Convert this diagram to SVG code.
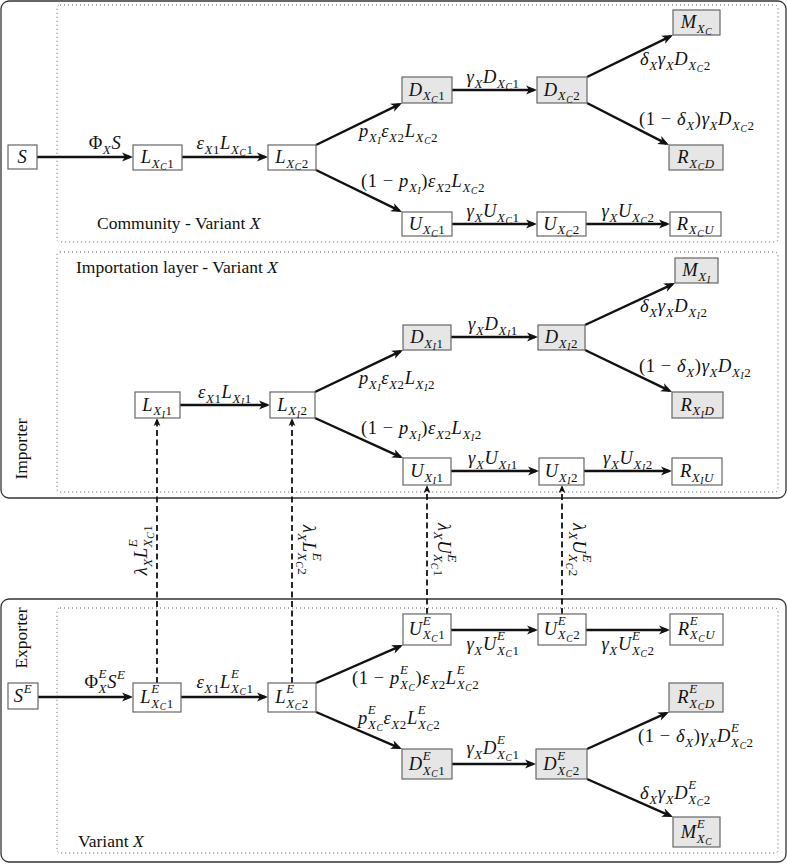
<svg xmlns="http://www.w3.org/2000/svg" width="787" height="864" viewBox="0 0 787 864">
<defs>
<style>
.t{font-family:"Liberation Serif","Times New Roman",serif;font-size:18.5px;fill:#111;letter-spacing:0.6px}
.c{text-anchor:middle}
.lab{font-size:17.5px;letter-spacing:0}
.i{font-style:italic}
.s{font-size:13px}
.ss{font-size:9.5px}
.box{fill:#fff;stroke:#666;stroke-width:1.2}
.sh{fill:#e6e6e6;stroke:#666;stroke-width:1.2}
.outer{fill:none;stroke:#333;stroke-width:1.3}
.dot{fill:none;stroke:#555;stroke-width:1;stroke-dasharray:1 3}
.e{fill:none;stroke:#111;stroke-width:2.4;marker-end:url(#ah)}
.d{fill:none;stroke:#111;stroke-width:1.8;stroke-dasharray:6 3.5;marker-end:url(#ahs)}
</style>
<marker id="ah" markerUnits="userSpaceOnUse" viewBox="-12 -6 13 12" refX="-3" refY="0" markerWidth="13" markerHeight="12" orient="auto">
<path d="M-11,-4.5 L0,0 L-11,4.5 L-8,0 z" fill="#111"/>
</marker>
<marker id="ahs" markerUnits="userSpaceOnUse" viewBox="-9 -4 10 8" refX="-2" refY="0" markerWidth="10" markerHeight="8" orient="auto">
<path d="M-8,-3.4 L0,0 L-8,3.4 L-6,0 z" fill="#111"/>
</marker>
</defs>
<rect width="787" height="864" fill="#fff"/>
<g id="frames">
<rect class="outer" x="1" y="1" width="785" height="497" rx="8"/>
<rect class="dot" x="57" y="5" width="721" height="237" rx="3"/>
<rect class="dot" x="57" y="252" width="721" height="240" rx="3"/>
<rect class="outer" x="1" y="599" width="785" height="263" rx="8"/>
<rect class="dot" x="57" y="608" width="721" height="245" rx="3"/>
<text class="t lab" x="97" y="229">Community - Variant <tspan class="i">X</tspan></text>
<text class="t lab" x="76" y="273">Importation layer - Variant <tspan class="i">X</tspan></text>
<text class="t lab" x="78" y="847">Variant <tspan class="i">X</tspan></text>
<text class="t lab c" transform="translate(27,449) rotate(-90)">Importer</text>
<text class="t lab c" transform="translate(27,638) rotate(-90)">Exporter</text>
</g>
<g id="connectors">
<path class="e" d="M37,157 H130"/>
<path class="e" d="M182,157 H265"/>
<path class="e" d="M316,145 L399.3,104.3"/>
<path class="e" d="M316,170 L399.3,210.7"/>
<path class="e" d="M452,90 H534"/>
<path class="e" d="M587,77 L670.3,36.3"/>
<path class="e" d="M587,103 L666.3,143.6"/>
<path class="e" d="M452,224 H534"/>
<path class="e" d="M586,224 H667"/>
<path class="e" d="M180,405 H267"/>
<path class="e" d="M315,392 L400.3,351.3"/>
<path class="e" d="M315,418 L400.3,456.8"/>
<path class="e" d="M451,337 H535"/>
<path class="e" d="M585,325 L672.3,284.3"/>
<path class="e" d="M585,350 L669.3,390.7"/>
<path class="e" d="M451,471 H536"/>
<path class="e" d="M584,471 H669"/>
<path class="e" d="M38,697 H130"/>
<path class="e" d="M181,697 H265"/>
<path class="e" d="M316,683 L400.2,646.2"/>
<path class="e" d="M316,712 L399.2,747.8"/>
<path class="e" d="M451,630 H535"/>
<path class="e" d="M586,630 H667"/>
<path class="e" d="M452,764 H533"/>
<path class="e" d="M587,749 L666.3,713.2"/>
<path class="e" d="M587,779 L670.3,815.8"/>
<path class="d" d="M157,683 V420"/>
<path class="d" d="M292,683 V420"/>
<path class="d" d="M427,614 V487"/>
<path class="d" d="M562,614 V487"/>
<!-- labels top -->
<text class="t c" x="105" y="149">Φ<tspan class="s i" dy="4.5">X</tspan><tspan class="i" dy="-4.5">S</tspan></text>
<text class="t c" x="225" y="149"><tspan class="i">ε</tspan><tspan class="s i" dy="4.5">X</tspan><tspan class="s">1</tspan><tspan class="i" dy="-4.5">L</tspan><tspan class="s i" dy="4.5">X</tspan><tspan class="ss i" dy="2.5">C</tspan><tspan class="s" dy="-2.5">1</tspan></text>
<text class="t" x="359" y="137"><tspan class="i">p</tspan><tspan class="s i" dy="4.5">X</tspan><tspan class="ss i" dy="2.5">I</tspan><tspan class="i" dy="-7">ε</tspan><tspan class="s i" dy="4.5">X</tspan><tspan class="s">2</tspan><tspan class="i" dy="-4.5">L</tspan><tspan class="s i" dy="4.5">X</tspan><tspan class="ss i" dy="2.5">C</tspan><tspan class="s" dy="-2.5">2</tspan></text>
<text class="t" x="361" y="187">(1 − <tspan class="i">p</tspan><tspan class="s i" dy="4.5">X</tspan><tspan class="ss i" dy="2.5">I</tspan><tspan dy="-7">)</tspan><tspan class="i">ε</tspan><tspan class="s i" dy="4.5">X</tspan><tspan class="s">2</tspan><tspan class="i" dy="-4.5">L</tspan><tspan class="s i" dy="4.5">X</tspan><tspan class="ss i" dy="2.5">C</tspan><tspan class="s" dy="-2.5">2</tspan></text>
<text class="t c" x="493" y="83"><tspan class="i">γ</tspan><tspan class="s i" dy="4.5">X</tspan><tspan class="i" dy="-4.5">D</tspan><tspan class="s i" dy="4.5">X</tspan><tspan class="ss i" dy="2.5">C</tspan><tspan class="s" dy="-2.5">1</tspan></text>
<text class="t" x="640" y="65"><tspan class="i">δ</tspan><tspan class="s i" dy="4.5">X</tspan><tspan class="i" dy="-4.5">γ</tspan><tspan class="s i" dy="4.5">X</tspan><tspan class="i" dy="-4.5">D</tspan><tspan class="s i" dy="4.5">X</tspan><tspan class="ss i" dy="2.5">C</tspan><tspan class="s" dy="-2.5">2</tspan></text>
<text class="t" x="639" y="125">(1 − <tspan class="i">δ</tspan><tspan class="s i" dy="4.5">X</tspan><tspan dy="-4.5">)</tspan><tspan class="i">γ</tspan><tspan class="s i" dy="4.5">X</tspan><tspan class="i" dy="-4.5">D</tspan><tspan class="s i" dy="4.5">X</tspan><tspan class="ss i" dy="2.5">C</tspan><tspan class="s" dy="-2.5">2</tspan></text>
<text class="t c" x="493" y="217"><tspan class="i">γ</tspan><tspan class="s i" dy="4.5">X</tspan><tspan class="i" dy="-4.5">U</tspan><tspan class="s i" dy="4.5">X</tspan><tspan class="ss i" dy="2.5">C</tspan><tspan class="s" dy="-2.5">1</tspan></text>
<text class="t c" x="628" y="217"><tspan class="i">γ</tspan><tspan class="s i" dy="4.5">X</tspan><tspan class="i" dy="-4.5">U</tspan><tspan class="s i" dy="4.5">X</tspan><tspan class="ss i" dy="2.5">C</tspan><tspan class="s" dy="-2.5">2</tspan></text>
<!-- labels middle -->
<text class="t c" x="225" y="398"><tspan class="i">ε</tspan><tspan class="s i" dy="4.5">X</tspan><tspan class="s">1</tspan><tspan class="i" dy="-4.5">L</tspan><tspan class="s i" dy="4.5">X</tspan><tspan class="ss i" dy="2.5">I</tspan><tspan class="s" dy="-2.5">1</tspan></text>
<text class="t" x="359" y="384"><tspan class="i">p</tspan><tspan class="s i" dy="4.5">X</tspan><tspan class="ss i" dy="2.5">I</tspan><tspan class="i" dy="-7">ε</tspan><tspan class="s i" dy="4.5">X</tspan><tspan class="s">2</tspan><tspan class="i" dy="-4.5">L</tspan><tspan class="s i" dy="4.5">X</tspan><tspan class="ss i" dy="2.5">I</tspan><tspan class="s" dy="-2.5">2</tspan></text>
<text class="t" x="361" y="434">(1 − <tspan class="i">p</tspan><tspan class="s i" dy="4.5">X</tspan><tspan class="ss i" dy="2.5">I</tspan><tspan dy="-7">)</tspan><tspan class="i">ε</tspan><tspan class="s i" dy="4.5">X</tspan><tspan class="s">2</tspan><tspan class="i" dy="-4.5">L</tspan><tspan class="s i" dy="4.5">X</tspan><tspan class="ss i" dy="2.5">I</tspan><tspan class="s" dy="-2.5">2</tspan></text>
<text class="t c" x="493" y="330"><tspan class="i">γ</tspan><tspan class="s i" dy="4.5">X</tspan><tspan class="i" dy="-4.5">D</tspan><tspan class="s i" dy="4.5">X</tspan><tspan class="ss i" dy="2.5">I</tspan><tspan class="s" dy="-2.5">1</tspan></text>
<text class="t" x="640" y="312"><tspan class="i">δ</tspan><tspan class="s i" dy="4.5">X</tspan><tspan class="i" dy="-4.5">γ</tspan><tspan class="s i" dy="4.5">X</tspan><tspan class="i" dy="-4.5">D</tspan><tspan class="s i" dy="4.5">X</tspan><tspan class="ss i" dy="2.5">I</tspan><tspan class="s" dy="-2.5">2</tspan></text>
<text class="t" x="639" y="372">(1 − <tspan class="i">δ</tspan><tspan class="s i" dy="4.5">X</tspan><tspan dy="-4.5">)</tspan><tspan class="i">γ</tspan><tspan class="s i" dy="4.5">X</tspan><tspan class="i" dy="-4.5">D</tspan><tspan class="s i" dy="4.5">X</tspan><tspan class="ss i" dy="2.5">I</tspan><tspan class="s" dy="-2.5">2</tspan></text>
<text class="t c" x="493" y="464"><tspan class="i">γ</tspan><tspan class="s i" dy="4.5">X</tspan><tspan class="i" dy="-4.5">U</tspan><tspan class="s i" dy="4.5">X</tspan><tspan class="ss i" dy="2.5">I</tspan><tspan class="s" dy="-2.5">1</tspan></text>
<text class="t c" x="628" y="464"><tspan class="i">γ</tspan><tspan class="s i" dy="4.5">X</tspan><tspan class="i" dy="-4.5">U</tspan><tspan class="s i" dy="4.5">X</tspan><tspan class="ss i" dy="2.5">I</tspan><tspan class="s" dy="-2.5">2</tspan></text>
<!-- labels bottom -->
<text class="t c" x="105" y="688">Φ<tspan class="s i" dy="-10">E</tspan><tspan class="s i" dx="-8.5" dy="14.5">X</tspan><tspan class="i" dy="-4.5">S</tspan><tspan class="s i" dy="-9">E</tspan></text>
<text class="t c" x="225" y="688"><tspan class="i">ε</tspan><tspan class="s i" dy="4.5">X</tspan><tspan class="s">1</tspan><tspan class="i" dy="-4.5">L</tspan><tspan class="s i" dy="-10">E</tspan><tspan class="s i" dx="-8.5" dy="14.5">X</tspan><tspan class="ss i" dy="2.5">C</tspan><tspan class="s" dy="-2.5">1</tspan></text>
<text class="t" x="352" y="684">(1 − <tspan class="i">p</tspan><tspan class="s i" dy="-10">E</tspan><tspan class="s i" dx="-8.5" dy="14.5">X</tspan><tspan class="ss i" dy="2.5">C</tspan><tspan dy="-7">)</tspan><tspan class="i">ε</tspan><tspan class="s i" dy="4.5">X</tspan><tspan class="s">2</tspan><tspan class="i" dy="-4.5">L</tspan><tspan class="s i" dy="-10">E</tspan><tspan class="s i" dx="-8.5" dy="14.5">X</tspan><tspan class="ss i" dy="2.5">C</tspan><tspan class="s" dy="-2.5">2</tspan></text>
<text class="t" x="358" y="724"><tspan class="i">p</tspan><tspan class="s i" dy="-10">E</tspan><tspan class="s i" dx="-8.5" dy="14.5">X</tspan><tspan class="ss i" dy="2.5">C</tspan><tspan class="i" dy="-7">ε</tspan><tspan class="s i" dy="4.5">X</tspan><tspan class="s">2</tspan><tspan class="i" dy="-4.5">L</tspan><tspan class="s i" dy="-10">E</tspan><tspan class="s i" dx="-8.5" dy="14.5">X</tspan><tspan class="ss i" dy="2.5">C</tspan><tspan class="s" dy="-2.5">2</tspan></text>
<text class="t c" x="493" y="650"><tspan class="i">γ</tspan><tspan class="s i" dy="4.5">X</tspan><tspan class="i" dy="-4.5">U</tspan><tspan class="s i" dy="-10">E</tspan><tspan class="s i" dx="-8.5" dy="14.5">X</tspan><tspan class="ss i" dy="2.5">C</tspan><tspan class="s" dy="-2.5">1</tspan></text>
<text class="t c" x="628" y="650"><tspan class="i">γ</tspan><tspan class="s i" dy="4.5">X</tspan><tspan class="i" dy="-4.5">U</tspan><tspan class="s i" dy="-10">E</tspan><tspan class="s i" dx="-8.5" dy="14.5">X</tspan><tspan class="ss i" dy="2.5">C</tspan><tspan class="s" dy="-2.5">2</tspan></text>
<text class="t c" x="493" y="754"><tspan class="i">γ</tspan><tspan class="s i" dy="4.5">X</tspan><tspan class="i" dy="-4.5">D</tspan><tspan class="s i" dy="-10">E</tspan><tspan class="s i" dx="-8.5" dy="14.5">X</tspan><tspan class="ss i" dy="2.5">C</tspan><tspan class="s" dy="-2.5">1</tspan></text>
<text class="t" x="638" y="742">(1 − <tspan class="i">δ</tspan><tspan class="s i" dy="4.5">X</tspan><tspan dy="-4.5">)</tspan><tspan class="i">γ</tspan><tspan class="s i" dy="4.5">X</tspan><tspan class="i" dy="-4.5">D</tspan><tspan class="s i" dy="-10">E</tspan><tspan class="s i" dx="-8.5" dy="14.5">X</tspan><tspan class="ss i" dy="2.5">C</tspan><tspan class="s" dy="-2.5">2</tspan></text>
<text class="t" x="640" y="799"><tspan class="i">δ</tspan><tspan class="s i" dy="4.5">X</tspan><tspan class="i" dy="-4.5">γ</tspan><tspan class="s i" dy="4.5">X</tspan><tspan class="i" dy="-4.5">D</tspan><tspan class="s i" dy="-10">E</tspan><tspan class="s i" dx="-8.5" dy="14.5">X</tspan><tspan class="ss i" dy="2.5">C</tspan><tspan class="s" dy="-2.5">2</tspan></text>
<!-- dashed labels -->
<text class="t c" transform="translate(147,550) rotate(-90)"><tspan class="i">λ</tspan><tspan class="s i" dy="4.5">X</tspan><tspan class="i" dy="-4.5">L</tspan><tspan class="s i" dy="-10">E</tspan><tspan class="s i" dx="-8.5" dy="14.5">X</tspan><tspan class="ss i" dy="2.5">C</tspan><tspan class="s" dy="-2.5">1</tspan></text>
<text class="t c" transform="translate(302.5,550) rotate(90)"><tspan class="i">λ</tspan><tspan class="s i" dy="4.5">X</tspan><tspan class="i" dy="-4.5">L</tspan><tspan class="s i" dy="-10">E</tspan><tspan class="s i" dx="-8.5" dy="14.5">X</tspan><tspan class="ss i" dy="2.5">C</tspan><tspan class="s" dy="-2.5">2</tspan></text>
<text class="t c" transform="translate(438,550) rotate(90)"><tspan class="i">λ</tspan><tspan class="s i" dy="4.5">X</tspan><tspan class="i" dy="-4.5">U</tspan><tspan class="s i" dy="-10">E</tspan><tspan class="s i" dx="-8.5" dy="14.5">X</tspan><tspan class="ss i" dy="2.5">C</tspan><tspan class="s" dy="-2.5">1</tspan></text>
<text class="t c" transform="translate(573,550) rotate(90)"><tspan class="i">λ</tspan><tspan class="s i" dy="4.5">X</tspan><tspan class="i" dy="-4.5">U</tspan><tspan class="s i" dy="-10">E</tspan><tspan class="s i" dx="-8.5" dy="14.5">X</tspan><tspan class="ss i" dy="2.5">C</tspan><tspan class="s" dy="-2.5">2</tspan></text>
</g>
<!-- top nodes -->
<g id="S"><rect class="box" x="8" y="145" width="29" height="24"/><text class="t c" x="22.5" y="162.5"><tspan class="i">S</tspan></text></g>
<g id="LXC1"><rect class="box" x="133" y="145" width="49" height="25"/><text class="t c" x="157.5" y="163"><tspan class="i">L</tspan><tspan class="s i" dy="4.5">X</tspan><tspan class="ss i" dy="2.5">C</tspan><tspan class="s" dy="-2.5">1</tspan></text></g>
<g id="LXC2"><rect class="box" x="268" y="145" width="48" height="25"/><text class="t c" x="292" y="163"><tspan class="i">L</tspan><tspan class="s i" dy="4.5">X</tspan><tspan class="ss i" dy="2.5">C</tspan><tspan class="s" dy="-2.5">2</tspan></text></g>
<g id="DXC1"><rect class="sh" x="402" y="77" width="50" height="26"/><text class="t c" x="427" y="95.5"><tspan class="i">D</tspan><tspan class="s i" dy="4.5">X</tspan><tspan class="ss i" dy="2.5">C</tspan><tspan class="s" dy="-2.5">1</tspan></text></g>
<g id="DXC2"><rect class="sh" x="537" y="77" width="50" height="26"/><text class="t c" x="562" y="95.5"><tspan class="i">D</tspan><tspan class="s i" dy="4.5">X</tspan><tspan class="ss i" dy="2.5">C</tspan><tspan class="s" dy="-2.5">2</tspan></text></g>
<g id="MXC"><rect class="sh" x="673" y="10" width="47" height="25"/><text class="t c" x="696.5" y="28"><tspan class="i">M</tspan><tspan class="s i" dy="4.5">X</tspan><tspan class="ss i" dy="2.5">C</tspan></text></g>
<g id="RXCD"><rect class="sh" x="669" y="145" width="54" height="25"/><text class="t c" x="696" y="163"><tspan class="i">R</tspan><tspan class="s i" dy="4.5">X</tspan><tspan class="ss i" dy="2.5">C</tspan><tspan class="s i" dy="-2.5">D</tspan></text></g>
<g id="UXC1"><rect class="box" x="402" y="212" width="50" height="24"/><text class="t c" x="427" y="229.5"><tspan class="i">U</tspan><tspan class="s i" dy="4.5">X</tspan><tspan class="ss i" dy="2.5">C</tspan><tspan class="s" dy="-2.5">1</tspan></text></g>
<g id="UXC2"><rect class="box" x="537" y="212" width="49" height="24"/><text class="t c" x="561.5" y="229.5"><tspan class="i">U</tspan><tspan class="s i" dy="4.5">X</tspan><tspan class="ss i" dy="2.5">C</tspan><tspan class="s" dy="-2.5">2</tspan></text></g>
<g id="RXCU"><rect class="box" x="670" y="212" width="51" height="24"/><text class="t c" x="695.5" y="229.5"><tspan class="i">R</tspan><tspan class="s i" dy="4.5">X</tspan><tspan class="ss i" dy="2.5">C</tspan><tspan class="s i" dy="-2.5">U</tspan></text></g>
<!-- middle nodes -->
<g id="LXI1"><rect class="box" x="135" y="392" width="45" height="26"/><text class="t c" x="157.5" y="410.5"><tspan class="i">L</tspan><tspan class="s i" dy="4.5">X</tspan><tspan class="ss i" dy="2.5">I</tspan><tspan class="s" dy="-2.5">1</tspan></text></g>
<g id="LXI2"><rect class="box" x="270" y="392" width="45" height="26"/><text class="t c" x="292.5" y="410.5"><tspan class="i">L</tspan><tspan class="s i" dy="4.5">X</tspan><tspan class="ss i" dy="2.5">I</tspan><tspan class="s" dy="-2.5">2</tspan></text></g>
<g id="DXI1"><rect class="sh" x="403" y="325" width="48" height="25"/><text class="t c" x="427" y="343"><tspan class="i">D</tspan><tspan class="s i" dy="4.5">X</tspan><tspan class="ss i" dy="2.5">I</tspan><tspan class="s" dy="-2.5">1</tspan></text></g>
<g id="DXI2"><rect class="sh" x="538" y="325" width="47" height="25"/><text class="t c" x="561.5" y="343"><tspan class="i">D</tspan><tspan class="s i" dy="4.5">X</tspan><tspan class="ss i" dy="2.5">I</tspan><tspan class="s" dy="-2.5">2</tspan></text></g>
<g id="MXI"><rect class="sh" x="675" y="258" width="43" height="25"/><text class="t c" x="696.5" y="276"><tspan class="i">M</tspan><tspan class="s i" dy="4.5">X</tspan><tspan class="ss i" dy="2.5">I</tspan></text></g>
<g id="RXID"><rect class="sh" x="672" y="392" width="51" height="26"/><text class="t c" x="697.5" y="410.5"><tspan class="i">R</tspan><tspan class="s i" dy="4.5">X</tspan><tspan class="ss i" dy="2.5">I</tspan><tspan class="s i" dy="-2.5">D</tspan></text></g>
<g id="UXI1"><rect class="box" x="403" y="458" width="48" height="27"/><text class="t c" x="427" y="477"><tspan class="i">U</tspan><tspan class="s i" dy="4.5">X</tspan><tspan class="ss i" dy="2.5">I</tspan><tspan class="s" dy="-2.5">1</tspan></text></g>
<g id="UXI2"><rect class="box" x="539" y="458" width="45" height="27"/><text class="t c" x="561.5" y="477"><tspan class="i">U</tspan><tspan class="s i" dy="4.5">X</tspan><tspan class="ss i" dy="2.5">I</tspan><tspan class="s" dy="-2.5">2</tspan></text></g>
<g id="RXIU"><rect class="box" x="672" y="458" width="50" height="27"/><text class="t c" x="697" y="477"><tspan class="i">R</tspan><tspan class="s i" dy="4.5">X</tspan><tspan class="ss i" dy="2.5">I</tspan><tspan class="s i" dy="-2.5">U</tspan></text></g>
<!-- bottom nodes -->
<g id="SE"><rect class="box" x="8" y="683" width="30" height="26"/><text class="t c" x="23" y="702"><tspan class="i">S</tspan><tspan class="s i" dy="-9">E</tspan></text></g>
<g id="LEXC1"><rect class="box" x="133" y="683" width="48" height="29"/><text class="t c" x="157" y="703"><tspan class="i">L</tspan><tspan class="s i" dy="-10">E</tspan><tspan class="s i" dx="-8.5" dy="14.5">X</tspan><tspan class="ss i" dy="2.5">C</tspan><tspan class="s" dy="-2.5">1</tspan></text></g>
<g id="LEXC2"><rect class="box" x="268" y="683" width="48" height="29"/><text class="t c" x="292" y="703"><tspan class="i">L</tspan><tspan class="s i" dy="-10">E</tspan><tspan class="s i" dx="-8.5" dy="14.5">X</tspan><tspan class="ss i" dy="2.5">C</tspan><tspan class="s" dy="-2.5">2</tspan></text></g>
<g id="UEXC1"><rect class="box" x="403" y="614" width="48" height="31"/><text class="t c" x="427" y="634.5"><tspan class="i">U</tspan><tspan class="s i" dy="-10">E</tspan><tspan class="s i" dx="-8.5" dy="14.5">X</tspan><tspan class="ss i" dy="2.5">C</tspan><tspan class="s" dy="-2.5">1</tspan></text></g>
<g id="UEXC2"><rect class="box" x="538" y="614" width="48" height="31"/><text class="t c" x="562" y="634.5"><tspan class="i">U</tspan><tspan class="s i" dy="-10">E</tspan><tspan class="s i" dx="-8.5" dy="14.5">X</tspan><tspan class="ss i" dy="2.5">C</tspan><tspan class="s" dy="-2.5">2</tspan></text></g>
<g id="REXCU"><rect class="box" x="670" y="614" width="53" height="31"/><text class="t c" x="696.5" y="634.5"><tspan class="i">R</tspan><tspan class="s i" dy="-10">E</tspan><tspan class="s i" dx="-8.5" dy="14.5">X</tspan><tspan class="ss i" dy="2.5">C</tspan><tspan class="s i" dy="-2.5">U</tspan></text></g>
<g id="DEXC1"><rect class="sh" x="402" y="749" width="50" height="30"/><text class="t c" x="427" y="770"><tspan class="i">D</tspan><tspan class="s i" dy="-10">E</tspan><tspan class="s i" dx="-8.5" dy="14.5">X</tspan><tspan class="ss i" dy="2.5">C</tspan><tspan class="s" dy="-2.5">1</tspan></text></g>
<g id="DEXC2"><rect class="sh" x="536" y="749" width="51" height="30"/><text class="t c" x="561.5" y="770"><tspan class="i">D</tspan><tspan class="s i" dy="-10">E</tspan><tspan class="s i" dx="-8.5" dy="14.5">X</tspan><tspan class="ss i" dy="2.5">C</tspan><tspan class="s" dy="-2.5">2</tspan></text></g>
<g id="REXCD"><rect class="sh" x="669" y="683" width="54" height="29"/><text class="t c" x="696" y="703"><tspan class="i">R</tspan><tspan class="s i" dy="-10">E</tspan><tspan class="s i" dx="-8.5" dy="14.5">X</tspan><tspan class="ss i" dy="2.5">C</tspan><tspan class="s i" dy="-2.5">D</tspan></text></g>
<g id="MEXC"><rect class="sh" x="673" y="817" width="47" height="30"/><text class="t c" x="696.5" y="838"><tspan class="i">M</tspan><tspan class="s i" dy="-10">E</tspan><tspan class="s i" dx="-8.5" dy="14.5">X</tspan><tspan class="ss i" dy="2.5">C</tspan></text></g>
</svg>
